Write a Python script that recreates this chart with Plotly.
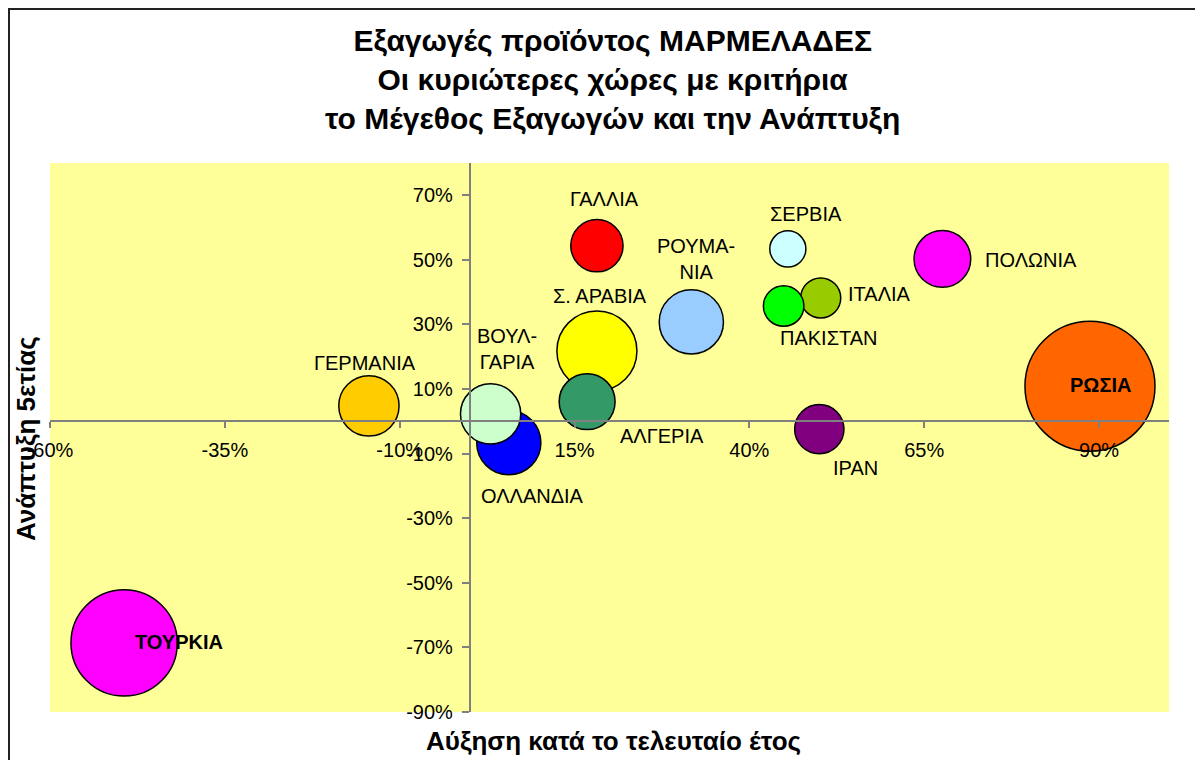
import plotly.graph_objects as go

# ---- data ----
countries = ["ΡΩΣΙΑ", "ΤΟΥΡΚΙΑ", "Σ. ΑΡΑΒΙΑ", "ΟΛΛΑΝΔΙΑ", "ΡΟΥΜΑΝΙΑ", "ΒΟΥΛΓΑΡΙΑ",
             "ΓΕΡΜΑΝΙΑ", "ΠΟΛΩΝΙΑ", "ΑΛΓΕΡΙΑ", "ΓΑΛΛΙΑ", "ΙΡΑΝ", "ΙΤΑΛΙΑ",
             "ΠΑΚΙΣΤΑΝ", "ΣΕΡΒΙΑ"]
label_text = ["ΡΩΣΙΑ", "ΤΟΥΡΚΙΑ", "Σ. ΑΡΑΒΙΑ", "ΟΛΛΑΝΔΙΑ", "ΡΟΥΜΑ-<br>ΝΙΑ", "ΒΟΥΛ-<br>ΓΑΡΙΑ",
              "ΓΕΡΜΑΝΙΑ", "ΠΟΛΩΝΙΑ", "ΑΛΓΕΡΙΑ", "ΓΑΛΛΙΑ", "ΙΡΑΝ", "ΙΤΑΛΙΑ",
              "ΠΑΚΙΣΤΑΝ", "ΣΕΡΒΙΑ"]
growth_last_year = [0.887, -0.494, 0.182, 0.056, 0.317, 0.030,
                    -0.144, 0.676, 0.168, 0.182, 0.500, 0.502,
                    0.449, 0.455]
growth_5y = [0.109, -0.686, 0.218, -0.066, 0.308, 0.023,
             0.048, 0.503, 0.061, 0.544, -0.024, 0.382,
             0.357, 0.534]
export_size = [100, 66.9, 37.9, 24.4, 24.4, 21.5,
               21.5, 19.0, 18.5, 16.2, 14.4, 9.5,
               9.7, 7.7]

x_tickvals = [-0.60, -0.35, -0.10, 0.15, 0.40, 0.65, 0.90]
x_ticktext = ["-60%", "-35%", "-10%", "15%", "40%", "65%", "90%"]
y_tickvals = [-0.9, -0.7, -0.5, -0.3, -0.1, 0.1, 0.3, 0.5, 0.7]
y_ticktext = ["-90%", "-70%", "-50%", "-30%", "-10%", "10%", "30%", "50%", "70%"]

# ---- styles ----
colors = ["#FF6600", "#FF00FF", "#FFFF00", "#0000FF", "#99CCFF", "#CCFFCC",
          "#FFCC00", "#FF00FF", "#339966", "#FF0000", "#800080", "#99CC00",
          "#00FF00", "#CCFFFF"]
label_shift = [(11, 1), (55, 1), (3, 55), (24, -53), (5, 63), (16, 65),
               (-4, 43), (89, -1), (75, -34), (8, 47), (36, -39), (59, 4),
               (45, -32), (18, 35)]
label_bold = [True, True] + [False] * 12

OFF = 8  # page body margin
W, H = 1203 - OFF, 760 - OFF
# plot area in screen pixels: x 50..1169, y 163..712
ML, MT = 50 - OFF, 163 - OFF
PW, PH = 1169 - 50, 712 - 163
MR, MB = W - ML - PW, H - MT - PH
XR = [-0.6, 1.0]
YR = [-0.9, 0.8]
MAX_D = 130.0


def px_x(p):
    return (p - OFF - ML) / PW


def px_y(p):
    return (MT + PH - (p - OFF)) / PH


fig = go.Figure()
fig.add_trace(go.Scatter(
    x=growth_last_year, y=growth_5y, mode="markers",
    marker=dict(size=export_size, sizemode="area", sizeref=2 * max(export_size) / MAX_D ** 2,
                color=colors, opacity=1, line=dict(color="black", width=1.5)),
    text=countries, hoverinfo="text", showlegend=False,
))

annotations = []
for xv, yv, txt, (dx, dy), b in zip(growth_last_year, growth_5y, label_text, label_shift, label_bold):
    annotations.append(dict(
        x=xv, y=yv, xref="x", yref="y", text=f"<b>{txt}</b>" if b else txt,
        showarrow=False, xshift=dx, yshift=dy, xanchor="center", yanchor="middle",
        font=dict(family="Liberation Sans, Arial", size=20, color="black"),
    ))

annotations.append(dict(
    x=px_x(612), y=px_y(79), xref="paper", yref="paper",
    text="<b>Εξαγωγές προϊόντος ΜΑΡΜΕΛΑΔΕΣ<br>Οι κυριώτερες χώρες με κριτήρια<br>το Μέγεθος Εξαγωγών και την Ανάπτυξη</b>",
    showarrow=False, xanchor="center", yanchor="middle",
    font=dict(family="Liberation Sans, Arial", size=30, color="black"),
))
annotations.append(dict(
    x=px_x(613), y=px_y(741), xref="paper", yref="paper",
    text="<b>Αύξηση κατά το τελευταίο έτος</b>", showarrow=False,
    xanchor="center", yanchor="middle",
    font=dict(family="Liberation Sans, Arial", size=26, color="black"),
))
annotations.append(dict(
    x=px_x(26), y=px_y(439), xref="paper", yref="paper",
    text="<b>Ανάπτυξη 5ετίας</b>", showarrow=False, textangle=-90,
    xanchor="center", yanchor="middle",
    font=dict(family="Liberation Sans, Arial", size=26, color="black"),
))

axis_font = dict(family="Liberation Sans, Arial", size=20, color="black")
fig.update_layout(
    width=W, height=H,
    margin=dict(l=ML, r=MR, t=MT, b=MB, pad=0),
    paper_bgcolor="white", plot_bgcolor="#FFFF99",
    xaxis=dict(range=XR, tickvals=x_tickvals, ticktext=x_ticktext,
               showgrid=False, zeroline=False, showline=True, linecolor="#808080", linewidth=1.5,
               ticks="outside", ticklen=6, tickcolor="#808080", tickwidth=1.5,
               tickfont=axis_font, anchor="free", position=-YR[0] / (YR[1] - YR[0]),
               ticklabelstandoff=5),
    yaxis=dict(range=YR, tickvals=y_tickvals, ticktext=y_ticktext,
               showgrid=False, zeroline=False, showline=True, linecolor="#808080", linewidth=1.5,
               ticks="outside", ticklen=7, tickcolor="#808080", tickwidth=1.5,
               tickfont=axis_font, anchor="free", position=-XR[0] / (XR[1] - XR[0]),
               ticklabelstandoff=5),
    annotations=annotations,
    shapes=[dict(type="rect", xref="paper", yref="paper",
                 x0=px_x(9), x1=px_x(1200), y0=px_y(775), y1=px_y(9),
                 line=dict(color="#222222", width=2), fillcolor="rgba(0,0,0,0)", layer="above")],
)

fig.write_html("out.html")
